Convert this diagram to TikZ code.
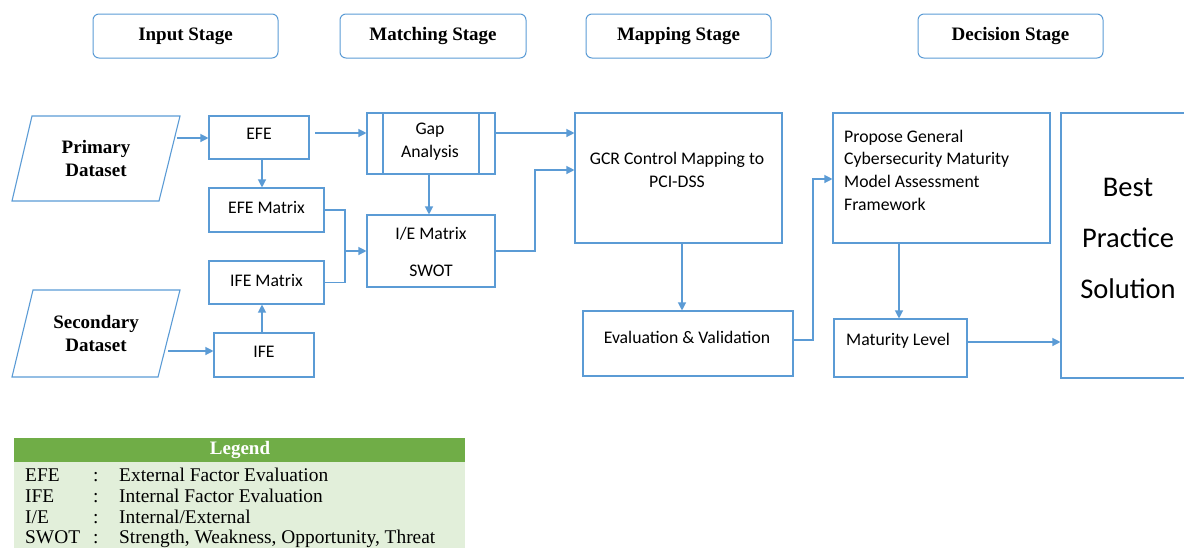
\documentclass[tikz,border=0pt]{standalone}
\usepackage{fontspec}
\setmainfont{Liberation Serif}
\newfontfamily\calib{Carlito}
\usetikzlibrary{arrows.meta}
\definecolor{bl}{HTML}{5B9BD5}
\definecolor{lgreen}{HTML}{E2EFDA}
\definecolor{dgreen}{HTML}{70AD47}
\begin{document}
\begin{tikzpicture}[x=1pt,y=-1pt,
 box/.style={draw=bl,line width=1.1pt,inner sep=0pt},
 arr/.style={draw=bl,line width=1.2pt,-{Triangle[length=8pt,width=8pt]}},
 ln/.style={draw=bl,line width=1.2pt},
 btxt/.style={font=\calib\fontsize{17.7}{23}\selectfont,align=center,inner sep=0pt},
 stage/.style={draw=bl,rounded corners=6pt,line width=1pt,font=\bfseries\fontsize{19}{22}\selectfont,inner sep=0pt,minimum height=44pt},
 ds/.style={font=\bfseries\fontsize{19}{23}\selectfont,align=center,inner sep=0pt},
 leg/.style={font=\fontsize{19.4}{21}\selectfont,anchor=base west,inner sep=0pt}]
\useasboundingbox (0,0) rectangle (1184,547);
\clip (0,0) rectangle (1184,547);
% stage headers
\node[stage,minimum width=185pt] (s1) at (185.5,36) {Input Stage};
\node[stage,minimum width=186pt] (s2) at (433,36) {Matching Stage};
\node[stage,minimum width=185pt] (s3) at (678.5,36) {Mapping Stage};
\node[stage,minimum width=185pt] (s4) at (1010.5,36) {Decision Stage};
% datasets
\draw[box] (32,116)--(180,116)--(159,201)--(12,201)--cycle;
\node[ds] (prim) at (96,158) {Primary\\Dataset};
\draw[box] (33,290)--(180,290)--(158,377)--(12,377)--cycle;
\node[ds] (sec) at (96,333) {Secondary\\Dataset};
% input boxes
\node[box,btxt,minimum width=100pt,minimum height=43pt] (efe) at (259,137.5) {};
\node[btxt] (efet) at (259,134) {EFE};
\node[box,btxt,minimum width=115pt,minimum height=44pt] (efem) at (266.5,210) {};
\node[btxt] (efemt) at (266.5,207) {EFE Matrix};
\node[box,btxt,minimum width=115pt,minimum height=43pt] (ifem) at (266.5,282.5) {};
\node[btxt] (ifemt) at (266.5,280) {IFE Matrix};
\node[box,btxt,minimum width=100pt,minimum height=44pt] (ife) at (264,355) {};
\node[btxt] (ifet) at (264,352) {IFE};
% matching
\node[box,minimum width=128pt,minimum height=61pt] (gap) at (431,143.5) {};
\draw[box] (383,0 |- gap.north) -- (383,0 |- gap.south);
\draw[box] (479,0 |- gap.north) -- (479,0 |- gap.south);
\node[btxt] (gapt) at (430,141.5) {Gap\\Analysis};
\node[box,minimum width=128pt,minimum height=72pt] (ie) at (431,251) {};
\node[btxt,font=\calib\fontsize{17.7}{37}\selectfont] (iet) at (431,251.5) {I/E Matrix\\SWOT};
% mapping
\node[box,minimum width=207pt,minimum height=130pt] (gcr) at (678.5,178) {};
\node[btxt] (gcrt) at (677,170) {GCR Control Mapping to\\PCI-DSS};
\node[box,minimum width=210pt,minimum height=65pt] (eval) at (688,343.5) {};
\node[btxt] (evalt) at (687,337) {Evaluation \& Validation};
% decision
\node[box,minimum width=217pt,minimum height=130pt] (prop) at (941.5,178) {};
\node[btxt,align=left,anchor=west,font=\calib\fontsize{17.7}{22.7}\selectfont] (propt) at (844,170) {Propose General\\Cybersecurity Maturity\\Model Assessment\\Framework};
\node[box,minimum width=133pt,minimum height=58pt] (mat) at (900.5,348) {};
\node[btxt] (matt) at (898,341) {Maturity Level};
\node[box,minimum width=139pt,minimum height=265pt] (best) at (1130.5,245.5) {};
\node[btxt,font=\calib\fontsize{28.5}{51}\selectfont] (bestt) at (1128,238) {Best\\Practice\\Solution};
% connectors
\coordinate (p1) at (177,138);
\draw[arr] (p1) -- (p1 -| efe.west);
\draw[arr] (262,0 |- efe.south) -- (262,0 |- efem.north);
\coordinate (s1c) at (168,351);
\draw[arr] (s1c) -- (s1c -| ife.west);
\draw[arr] (262,0 |- ife.north) -- (262,0 |- ifem.south);
\coordinate (e1) at (315,133);
\draw[arr] (e1) -- (e1 -| gap.west);
\coordinate (j1) at (345,251);
\draw[ln] (efem.east) -| (j1) |- (ifem.east);
\draw[arr] (j1) -- (ie.west);
\draw[arr] (429,0 |- gap.south) -- (429,0 |- ie.north);
\draw[arr] (gap.east |- 0,133) -- (gcr.west |- 0,133);
\draw[arr] (ie.east) -- (535,251) -- (535,170) -- (gcr.west |- 0,170);
\draw[arr] (682,0 |- gcr.south) -- (682,0 |- eval.north);
\draw[arr] (eval.east |- 0,340) -- (813,340) -- (813,179) -- (prop.west |- 0,179);
\draw[arr] (899,0 |- prop.south) -- (899,0 |- mat.north);
\draw[arr] (mat.east |- 0,342) -- (best.west |- 0,342);
% legend
\fill[dgreen] (14,438) rectangle (465,462);
\fill[lgreen] (14,462) rectangle (465,548);
\node[font=\bfseries\fontsize{19}{21}\selectfont,text=white,inner sep=0pt] (legh) at (240,450) {Legend};
\node[leg] (l1a) at (25,481) {EFE};
\node[leg] (l1b) at (93,481) {:};
\node[leg] (l1c) at (119,481) {External Factor Evaluation};
\node[leg] (l2a) at (25,502) {IFE};
\node[leg] (l2b) at (93,502) {:};
\node[leg] (l2c) at (119,502) {Internal Factor Evaluation};
\node[leg] (l3a) at (25,523) {I/E};
\node[leg] (l3b) at (93,523) {:};
\node[leg] (l3c) at (119,523) {Internal/External};
\node[leg] (l4a) at (25,543) {SWOT};
\node[leg] (l4b) at (93,543) {:};
\node[leg] (l4c) at (119,543) {Strength, Weakness, Opportunity, Threat};
\end{tikzpicture}
\end{document}
